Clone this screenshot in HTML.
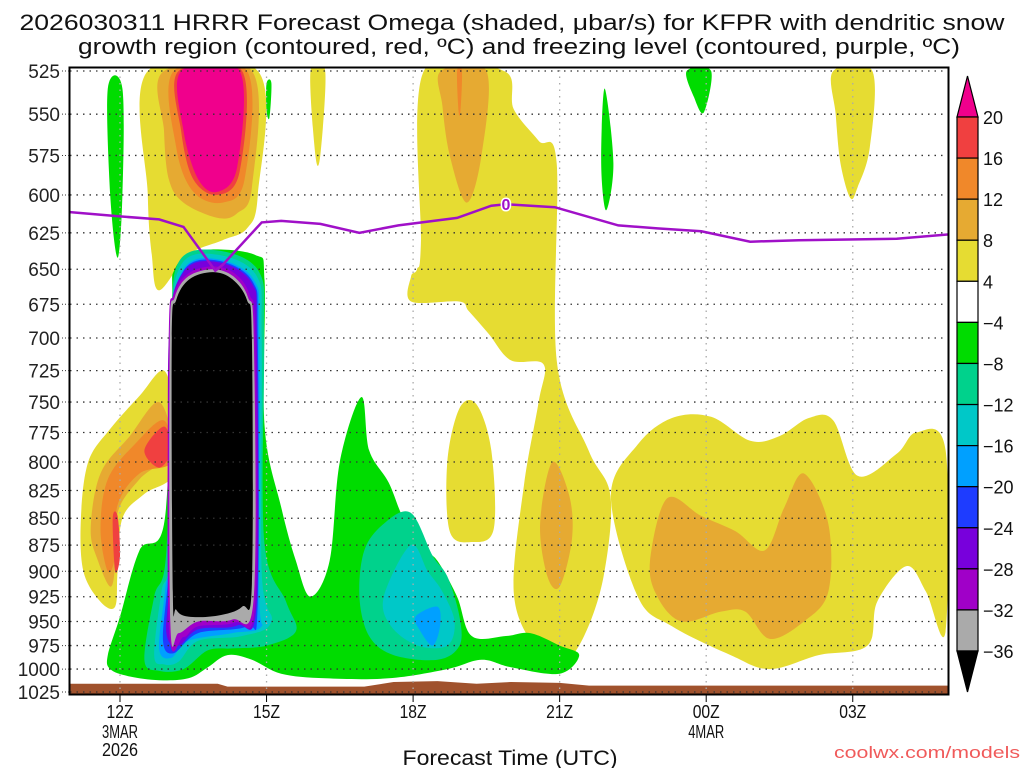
<!DOCTYPE html>
<html><head><meta charset="utf-8"><style>
html,body{margin:0;padding:0;background:#fff;}
svg{display:block;font-family:"Liberation Sans",sans-serif;}
</style></head><body>
<svg id="chart" width="1024" height="768" viewBox="0 0 1024 768">
<g id="title">
<text x="512" y="30" text-anchor="middle" font-size="22" textLength="985" lengthAdjust="spacingAndGlyphs" fill="#111">2026030311 HRRR Forecast Omega (shaded, μbar/s) for KFPR with dendritic snow</text>
<text x="519" y="54" text-anchor="middle" font-size="22" textLength="882" lengthAdjust="spacingAndGlyphs" fill="#111">growth region (contoured, red, ºC) and freezing level (contoured, purple, ºC)</text>
</g>
<defs><clipPath id="plotclip"><rect x="70" y="68" width="879" height="626"/></clipPath></defs>
<g id="fills" clip-path="url(#plotclip)"></g>
<g id="grid"></g>
<g id="frz" clip-path="url(#plotclip)"></g>
<rect x="69.5" y="67.5" width="879" height="627" fill="none" stroke="#000" stroke-width="2"/>
<g id="yaxis"></g>
<g id="xaxis"></g>
<text x="510" y="765" text-anchor="middle" font-size="21" textLength="215" lengthAdjust="spacingAndGlyphs" fill="#111">Forecast Time (UTC)</text>
<text x="1020" y="758" text-anchor="end" font-size="17" textLength="186" lengthAdjust="spacingAndGlyphs" fill="#f05a5a">coolwx.com/models</text>
<g id="cbar"></g>
</svg>
<script>
const NS="http://www.w3.org/2000/svg";
// ---- data ----
const pTicks=[525,550,575,600,625,650,675,700,725,750,775,800,825,850,875,900,925,950,975,1000,1025];
const xTickHours=[0,3,6,9,12,15];
const xTickLabels=["12Z","15Z","18Z","21Z","00Z","03Z"];
const xTickSub1=["3MAR","","","","4MAR",""];
const xTickSub2=["2026","","","","",""];
const cbLevels=["20","16","12","8","4","−4","−8","−12","−16","−20","−24","−28","−32","−36"];
const cbColors=["#f0008c","#f04040","#f0882a","#e6aa32","#e6dc32","#ffffff","#00dc00","#00d28c","#00c8c8","#00a0ff","#1e3cff","#7800dc","#a000c8","#aaaaaa","#000000"];
const frzHours=[-1.1,0,0.8,1.3,1.95,2.1,2.9,3.3,4.1,4.9,5.7,6.9,7.6,7.9,8.9,10.2,11.0,11.9,12.9,13.9,15.9,17];
const frzP=[611,614,616,621,651,647,618,617,619,625,620,615,607,606,608,620,622,624,631,630,629,626];
// shaded regions: [colorIndex, [[hour,p],...]]
const regions=[
 [4,[[0.57,525],[2.82,525],[2.82,600],[2.6,622],[2.1,630],[1.4,640],[0.8,665],[0.65,640],[0.57,600]]],
 [3,[[0.9,525],[2.7,525],[2.7,595],[2.4,612],[2.0,615],[1.3,605],[1.0,590],[0.9,560]]],
 [2,[[1.1,525],[2.6,525],[2.55,590],[2.1,605],[1.5,598],[1.15,570]]],
 [1,[[1.2,525],[2.5,525],[2.45,585],[2.0,600],[1.5,590],[1.25,560]]],
 [0,[[1.25,525],[2.45,525],[2.4,582],[2.0,598],[1.6,590],[1.3,560]]],
 [6,[[3.0,532],[3.1,532],[3.06,552],[3.0,548]]],
 [4,[[3.9,525],[4.2,525],[4.1,575],[4.0,575]]],
 [4,[[-0.8,850],[-0.65,800],[-0.2,772],[0.4,745],[0.9,725],[1.1,760],[1.1,810],[0.5,828],[0.05,850],[-0.05,900],[-0.1,935],[-0.4,930],[-0.75,900]]],
 [3,[[-0.6,860],[-0.4,810],[0.2,778],[0.8,750],[1.05,790],[0.4,815],[-0.05,845],[-0.1,895],[-0.2,915],[-0.45,890]]],
 [2,[[-0.4,860],[-0.25,815],[0.3,785],[0.9,765],[1.05,800],[0.4,810],[-0.05,838],[-0.1,885],[-0.25,900]]],
 [1,[[0.5,790],[0.9,770],[1.05,790],[0.8,805]]],
 [1,[[-0.15,850],[-0.05,848],[0.0,885],[-0.1,900]]],
 [4,[[6.22,525],[7.86,525],[8.06,547],[8.57,566],[8.94,580],[8.94,717],[9.59,790],[10.04,830],[9.9,905],[9.5,965],[9.02,995],[8.47,975],[8.06,920],[8.27,820],[8.57,750],[8.67,720],[8.0,717],[7.55,697],[7.14,680],[6.94,673],[5.96,673],[5.96,655],[6.08,650],[6.16,632]]],
 [3,[[6.57,525],[7.5,525],[7.4,575],[7.1,605],[6.75,575],[6.6,545]]],
 [2,[[6.9,525],[7.0,525],[6.97,548],[6.93,548]]],
 [3,[[8.6,855],[8.85,800],[9.2,830],[9.25,870],[9.0,915],[8.75,905]]],
 [4,[[6.7,800],[6.95,755],[7.3,752],[7.6,790],[7.65,860],[7.2,872],[6.75,862]]],
 [4,[[10.05,830],[10.6,785],[11.3,763],[12.1,762],[12.9,782],[13.5,778],[14.1,763],[14.6,765],[15.1,812],[15.9,793],[16.3,775],[16.9,790],[16.9,960],[16.5,920],[16.1,895],[15.5,930],[15.3,975],[14.3,985],[13.3,1000],[12.5,985],[11.3,955],[10.6,925]]],
 [3,[[10.85,890],[11.2,832],[11.9,848],[12.6,862],[13.2,880],[13.6,840],[14.0,810],[14.5,855],[14.5,920],[14.0,950],[13.3,968],[12.8,940],[12.3,940],[11.5,950],[11.0,925]]],
 [4,[[14.6,525],[15.4,525],[15.35,570],[15.1,595],[14.95,602],[14.75,580],[14.65,550]]],
 [6,[[-0.25,535],[0.05,535],[0.05,600],[-0.05,642],[-0.2,600]]],
 [6,[[9.92,535],[10.1,580],[9.95,610],[9.85,580]]],
 [6,[[11.6,525],[12.1,525],[11.95,549],[11.75,540]]],
 [6,[[-0.25,985],[0.0,945],[0.4,880],[0.92,850],[1.06,680],[1.12,650],[1.63,637],[2.76,640],[2.96,658],[2.96,770],[3.3,840],[3.6,890],[3.9,925],[4.29,890],[4.5,800],[4.94,746],[5.1,790],[5.5,818],[5.8,850],[6.2,878],[6.5,890],[6.9,925],[7.2,965],[7.9,965],[8.4,962],[9.0,975],[9.4,985],[9.0,1005],[8.0,998],[7.4,990],[6.7,1000],[5.5,1010],[4.2,1010],[3.3,1005],[2.7,990],[2.2,985],[1.8,998],[1.4,1010],[0.8,1012],[0.2,1008],[-0.2,1000]]],
 [7,[[4.9,925],[5.0,880],[5.4,855],[5.95,845],[6.4,885],[6.7,905],[6.95,945],[6.95,975],[6.5,990],[5.6,985],[5.1,965]]],
 [8,[[5.4,925],[5.95,875],[6.3,900],[6.6,920],[6.85,950],[6.7,975],[6.1,975],[5.55,955]]],
 [9,[[6.05,945],[6.5,935],[6.55,955],[6.4,975],[6.15,960]]],
 [7,[[0.5,990],[0.7,925],[0.95,880],[1.05,700],[1.2,645],[2.0,637],[2.85,652],[2.95,700],[2.95,870],[3.4,930],[3.6,960],[3.0,975],[2.3,978],[1.8,980],[1.3,1000],[0.8,1002]]],
 [8,[[0.7,985],[0.85,920],[1.02,880],[1.04,700],[1.25,647],[2.0,640],[2.8,655],[2.9,700],[2.9,900],[3.1,950],[2.5,965],[1.6,970],[1.2,992],[0.9,995]]],
 [9,[[0.8,978],[0.92,920],[1.02,870],[1.02,700],[1.3,650],[2.0,643],[2.75,658],[2.85,700],[2.85,920],[2.9,955],[2.3,962],[1.4,970],[1.05,988]]],
 [10,[[0.88,970],[0.98,910],[1.01,870],[1.01,700],[1.3,651],[2.0,644],[2.72,659],[2.82,700],[2.82,930],[2.6,955],[1.6,962],[1.1,983]]],
 [11,[[0.95,962],[1.0,900],[1.0,700],[1.3,652],[2.0,645],[2.7,660],[2.8,700],[2.8,930],[2.4,954],[1.6,958],[1.2,975]]],
 [12,[[1.0,955],[1.0,700],[1.1,668],[1.4,653],[1.9,648],[2.35,653],[2.65,668],[2.77,700],[2.77,930],[2.35,951],[1.6,955],[1.3,966]]],
 [13,[[1.03,950],[1.02,700],[1.12,670],[1.4,655],[1.9,650],[2.32,655],[2.62,670],[2.74,700],[2.74,925],[2.3,948],[1.6,950],[1.2,962]]],
 [14,[[1.08,920],[1.06,700],[1.15,672],[1.42,657],[1.9,652],[2.3,657],[2.6,672],[2.7,700],[2.7,912],[2.5,935],[2.0,944],[1.4,945],[1.15,938]]]
];
const groundHours=[-1.1,2.0,2.2,5.0,5.6,6.5,7.3,8.0,9.0,9.6,17];
const groundTop=[1016,1016,1019,1019,1014,1013,1016,1014,1015,1018,1018];
// ---- axes ----
const X0=120,PXH=48.85,Y0=71,Y1=692,LP0=Math.log(525),LP1=Math.log(1025);
const xs=h=>X0+h*PXH;
const ys=p=>Y0+(Math.log(p)-LP0)/(LP1-LP0)*(Y1-Y0);
function el(tag,attrs,parent){const e=document.createElementNS(NS,tag);for(const k in attrs)e.setAttribute(k,attrs[k]);parent.appendChild(e);return e;}
function smoothClosed(P){
  const n=P.length,t=0.5/3;let d="M"+P[0][0].toFixed(1)+","+P[0][1].toFixed(1);
  for(let i=0;i<n;i++){
    const p0=P[(i-1+n)%n],p1=P[i],p2=P[(i+1)%n],p3=P[(i+2)%n];
    const c1=[p1[0]+(p2[0]-p0[0])*t,p1[1]+(p2[1]-p0[1])*t];
    const c2=[p2[0]-(p3[0]-p1[0])*t,p2[1]-(p3[1]-p1[1])*t];
    d+=" C"+c1[0].toFixed(1)+","+c1[1].toFixed(1)+" "+c2[0].toFixed(1)+","+c2[1].toFixed(1)+" "+p2[0].toFixed(1)+","+p2[1].toFixed(1);
  }
  return d+"Z";
}
const fills=document.getElementById('fills');
regions.forEach((r,i)=>{
  const P=r[1].map(q=>[xs(q[0]),ys(q[1])]);
  const e=el('path',{d:smoothClosed(P),fill:cbColors[r[0]]},fills);
  
  
});
let gp="M"+xs(groundHours[0])+","+ys(1030);
groundHours.forEach((h,i)=>{gp+=" L"+xs(h).toFixed(1)+","+ys(groundTop[i]).toFixed(1);});
gp+=" L"+xs(groundHours[groundHours.length-1])+","+ys(1030)+"Z";
const g=el('path',{d:gp,fill:"#a0522d"},fills);


const grid=document.getElementById('grid'),yax=document.getElementById('yaxis'),xax=document.getElementById('xaxis');
pTicks.forEach(p=>{
  const y=ys(p);
  const l=el('line',{x1:70,x2:948,y1:y,y2:y,stroke:"#333","stroke-width":1.3,"stroke-dasharray":"1.5,5"},grid);
  
  
  el('line',{x1:62,x2:69,y1:y,y2:y,stroke:"#333","stroke-width":1,"stroke-dasharray":"1,2"},yax);
  const t=el('text',{x:60,y:y+7,"text-anchor":"end","font-size":19,fill:"#222"},yax);
  t.textContent=p;
  
  
});
xTickHours.forEach((h,i)=>{
  const x=xs(h);
  const l=el('line',{x1:x,x2:x,y1:70,y2:692,stroke:"#aaa","stroke-width":1.3,"stroke-dasharray":"1.5,5"},grid);
  
  
  el('line',{x1:x,x2:x,y1:695,y2:702,stroke:"#000","stroke-width":1},xax);
  [[xTickLabels[i],718],[xTickSub1[i],738],[xTickSub2[i],756]].forEach(a=>{
    if(!a[0])return;
    const t=el('text',{x:x,y:a[1],"text-anchor":"middle","font-size":18,fill:"#111",textLength:a[0].length*9,lengthAdjust:"spacingAndGlyphs"},xax);
    t.textContent=a[0];
    
    
  });
});
const fz=document.getElementById('frz');
const fd=frzHours.map((h,i)=>(i?"L":"M")+xs(h).toFixed(1)+","+ys(frzP[i]).toFixed(1)).join(" ");
const fl=el('path',{d:fd,fill:"none",stroke:"#a010c8","stroke-width":2.5},fz);


const lb=el('text',{x:xs(7.9),y:ys(606)+6,"text-anchor":"middle","font-size":16,"font-weight":"bold",fill:"#a010c8",stroke:"#fff","stroke-width":3,"paint-order":"stroke"},fz);
lb.textContent="0";


// colorbar
const cb=document.getElementById('cbar');
const CBX=957,CBW=21,CBT=117,BH=(651-117)/13;
const tri1=el('polygon',{points:`${CBX},${CBT} ${CBX+CBW},${CBT} ${CBX+CBW/2},76`,fill:cbColors[0],stroke:"#000","stroke-width":1.2},cb);


for(let i=1;i<14;i++){
  const r=el('rect',{x:CBX,y:CBT+(i-1)*BH,width:CBW,height:BH,fill:cbColors[i],stroke:"#000","stroke-width":1.2},cb);
  
  
}
const tri2=el('polygon',{points:`${CBX},651 ${CBX+CBW},651 ${CBX+CBW/2},692`,fill:"#000",stroke:"#000","stroke-width":1.2},cb);


cbLevels.forEach((v,i)=>{
  const t=el('text',{x:983,y:CBT+i*BH+7,"font-size":18,fill:"#111"},cb);
  t.textContent=v;
  
  
});
</script>
</body></html>
